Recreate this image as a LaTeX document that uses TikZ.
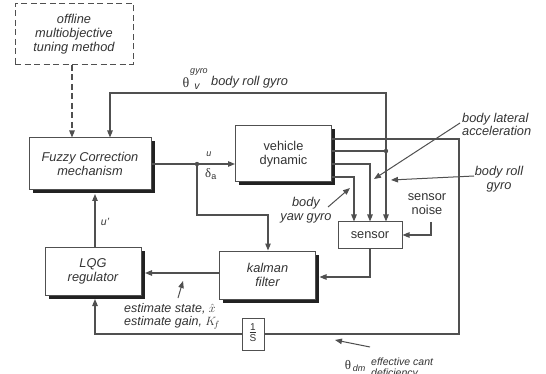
\documentclass[tikz,border=0pt]{standalone}
\usepackage{fontspec}
\setmainfont{Liberation Sans}
\newfontfamily\grk{Liberation Serif}
\usetikzlibrary{arrows.meta,shadows,calc}
\definecolor{ln}{HTML}{505050}
\definecolor{txt}{HTML}{333333}
\definecolor{shd}{HTML}{222222}
\begin{document}
\begin{tikzpicture}[x=1pt,y=-1pt,
  every node/.style={text=txt, font=\fontsize{12.8}{13.8}\selectfont, inner sep=0pt},
  line/.style={draw=ln, line width=1.1pt},
  arr/.style={line, -{Triangle[length=7pt,width=5.5pt]}},
  note/.style={draw=ln, line width=1pt, -{Triangle[length=7pt,width=5.5pt]}},
  blk/.style={draw=ln, line width=1pt, fill=white, align=center},
  sblk/.style={blk, general shadow={fill=shd, shadow xshift=3.5pt, shadow yshift=-3.5pt}},
  small/.style={font=\fontsize{10.5}{11}\selectfont},
  tiny/.style={font=\fontsize{9}{9}\selectfont}
]
\useasboundingbox (0,0) rectangle (546,374);

% blocks
\node[blk, dashed, dash pattern=on 6pt off 3.5pt, minimum width=118pt, minimum height=61pt] (off) at (74,34)
  {\itshape offline\\\itshape multiobjective\\\itshape tuning method};
\node[sblk, minimum width=122pt, minimum height=52pt] (fuzzy) at (90,164)
  {\itshape Fuzzy Correction\\\itshape mechanism};
\node[sblk, minimum width=96pt, minimum height=56pt] (veh) at (283.5,154)
  {vehicle\\dynamic};
\node[sblk, minimum width=96pt, minimum height=48pt] (lqg) at (93,271)
  {\itshape LQG\\\itshape regulator};
\node[sblk, minimum width=96pt, minimum height=48pt] (kal) at (267.5,275)
  {\itshape kalman\\\itshape filter};
\node[blk, minimum width=64pt, minimum height=26pt] (sensor) at (370,235) {sensor};
\node[blk, minimum width=22pt, minimum height=32pt, font=\fontsize{10}{10}\selectfont] (int) at (253,334)
  {\begin{tabular}{@{}c@{}}1\\[-2pt]\hline\rule{0pt}{9pt}S\end{tabular}};

% coordinates
\coordinate (dotl) at (197,164);
\coordinate (dotr) at (386,151);
\coordinate (fb) at (110,93);
\coordinate (kt) at (268,215);
\coordinate (c1) at (459,139);
\coordinate (c2) at (459,334);
\coordinate (nz) at (431,222);

% dashed link
\draw[arr, dashed, dash pattern=on 6pt off 3.5pt] ([xshift=-2pt]off.south) -- ([xshift=-2pt]off.south |- fuzzy.north);

% fuzzy -> vehicle and kalman
\draw[line] (fuzzy.east |- dotl) -- (dotl);
\draw[arr] (dotl) -- (dotl -| veh.west);
\draw[arr] (dotl) |- (kt) -- (kt |- kal.north);
\fill[ln] (dotl) circle (2.2pt);

% vehicle outputs
\draw[line] (veh.east |- c1) -- (c1) -- (c2) -- (int.east);
\draw[arr] (int.west) -| ($(lqg.south)+(2,3.5)$);
\draw[line] (veh.east |- dotr) -- (dotr);
\draw[arr] (dotr) |- (fb) -- (fb |- fuzzy.north);
\draw[arr] (dotr) -- (dotr |- sensor.north);
\fill[ln] (dotr) circle (2.2pt);
\draw[arr] ($(veh.east)+(0,10)$) -| (sensor.north);
\draw[arr] ($(veh.east)+(0,23)$) -| ($(sensor.north)+(-16,0)$);

% sensor, kalman, lqg
\draw[arr] (nz) |- (sensor.east);
\draw[arr] (sensor.south) |- ($(kal.east)+(3.5,2)$);
\draw[arr] ($(kal.west)+(0,-2)$) -- ($(lqg.east |- kal.west)+(3.5,-2)$);
\draw[arr] ($(lqg.north)+(2,0)$) -- ($(lqg.north |- fuzzy.south)+(2,3.5)$);

% labels
\node[tiny] (lu) at (209,154) {\itshape u};
\node (lda) at (211,174) {{\grk δ}\textsubscript{a}};
\node[small] (lup) at (105,222) {\itshape u'};
\node[font=\fontsize{14}{14}\selectfont] (th) at (186,83) {\grk θ};
\node[tiny] (thg) at (199,72.5) {\itshape gyro};
\node[small] (thsub) at (197,87) {\itshape v};
\node[anchor=west] (brg) at (211,82) {\itshape body roll gyro};
\node[align=left, anchor=west] (lat) at (462,124.5) {\itshape body lateral\\\itshape acceleration};
\node[align=center] (roll) at (499,179) {\itshape body roll\\\itshape gyro};
\node[align=center] (yaw) at (306,210.5) {\itshape body\\\itshape yaw gyro};
\node[align=center] (noise) at (427,204.5) {sensor\\noise};
\node[align=left, anchor=west, font=\fontsize{12.5}{13.5}\selectfont] (est) at (124,316.5)
  {\itshape estimate state, $\hat{x}$\\\itshape estimate gain, $K_{\!f}$};
\node[font=\fontsize{13}{13}\selectfont] (thdm) at (348,365) {\grk θ};
\node[tiny] (dm) at (359,368) {\itshape dm};
\node[small, align=left, anchor=north west] (eff) at (371,357.5) {\itshape effective cant\\\itshape deficiency};

% annotation arrows
\coordinate (a1s) at (460,123); \coordinate (a1e) at (374,179);
\coordinate (a2s) at (474,176); \coordinate (a2e) at (391,180);
\coordinate (a3s) at (328,207); \coordinate (a3e) at (350,188);
\coordinate (a4s) at (178,298); \coordinate (a4e) at (183,281);
\coordinate (a5s) at (370,347); \coordinate (a5e) at (335,340);
\draw[note] (a1s) -- (a1e);
\draw[note] (a2s) -- (a2e);
\draw[note] (a3s) -- (a3e);
\draw[note] (a4s) -- (a4e);
\draw[note] (a5s) -- (a5e);
\end{tikzpicture}
\end{document}
